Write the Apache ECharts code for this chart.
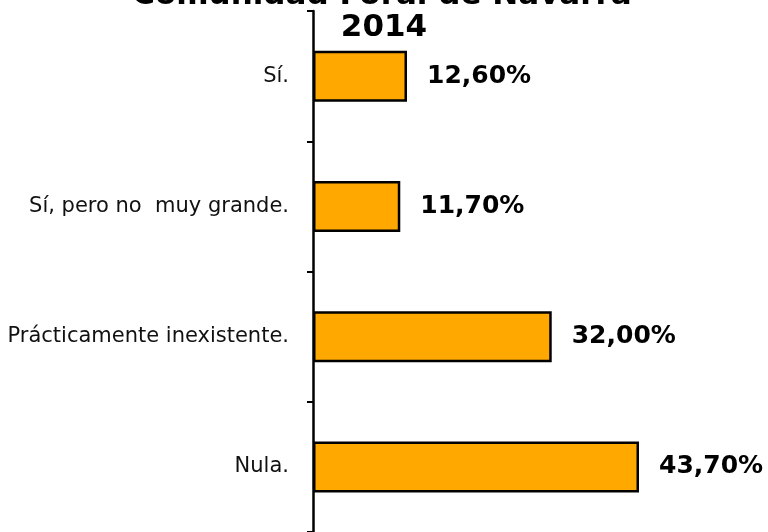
<!DOCTYPE html>
<html>
<head>
<meta charset="utf-8">
<script src="https://cdn.jsdelivr.net/npm/echarts@6/dist/echarts.min.js"></script>
<style>
  html, body { margin: 0; padding: 0; background: #fff; }
  #chart { width: 768px; height: 532px; }
</style>
</head>
<body>
<div id="chart"></div>
<script>
// respuestas y porcentajes
const categories = ['Sí.', 'Sí, pero no  muy grande.', 'Prácticamente inexistente.', 'Nula.']
const values = [12.6, 11.7, 32.0, 43.7]
const titleLines = ['Comunidad Foral de Navarra', '2014']

const fmt = (v) => v.toFixed(2).replace('.', ',') + '%'

const titleFont = { fontFamily: 'DejaVu Sans', fontWeight: 'bold', fontSize: 31, color: '#000' }

const option = {
  animation: false,
  title: [
    { text: titleLines[0], left: 377, top: -25, textAlign: 'center', textStyle: titleFont },
    { text: titleLines[1], left: 379, top: 7, textAlign: 'center', textStyle: titleFont },
  ],
  grid: { left: 313, right: 82, top: 11, height: 522 },
  xAxis: {
    type: 'value',
    min: 0,
    max: 50,
    show: false,
  },
  yAxis: {
    type: 'category',
    inverse: true,
    data: categories,
    axisLine: { lineStyle: { color: '#000', width: 2.5 } },
    axisTick: { show: true, length: 6, inside: false, lineStyle: { color: '#000', width: 2 } },
    axisLabel: {
      margin: 24,
      fontFamily: 'DejaVu Sans',
      fontSize: 21,
      color: '#111',
    },
  },
  series: [
    {
      type: 'bar',
      data: values,
      barWidth: 51,
      itemStyle: { color: '#FFA800', borderColor: '#000', borderWidth: 2.5 },
      label: {
        show: true,
        position: 'right',
        distance: 20,
        formatter: (p) => fmt(p.value),
        fontFamily: 'DejaVu Sans',
        fontWeight: 'bold',
        fontSize: 25,
        color: '#000',
      },
    },
  ],
}

const c = echarts.init(document.getElementById('chart'))
c.setOption(option)
</script>
</body>
</html>
